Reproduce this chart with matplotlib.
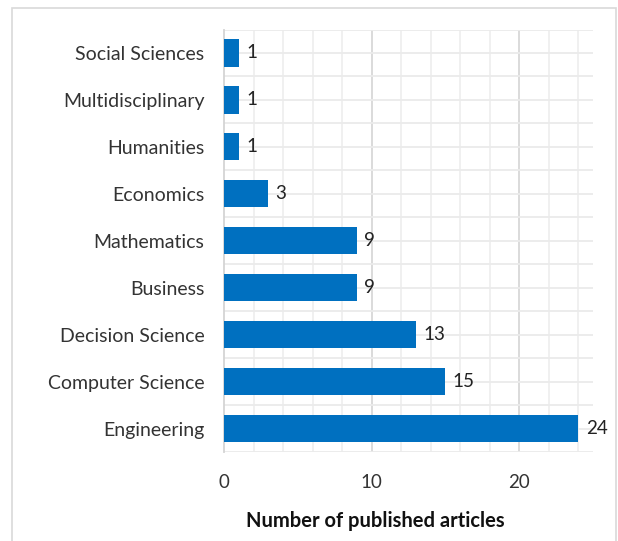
import matplotlib.pyplot as plt
import matplotlib.patches as patches
import numpy as np

categories = ["Engineering", "Computer Science", "Decision Science", "Business",
              "Mathematics", "Economics", "Humanities", "Multidisciplinary",
              "Social Sciences"]
articles = [24, 15, 13, 9, 9, 3, 1, 1, 1]

plt.rcParams['font.family'] = ['Lato', 'DejaVu Sans']

fig = plt.figure(figsize=(6.18, 5.41), dpi=100)
ax = fig.add_axes([224 / 618, 1 - 452 / 541, (593 - 224) / 618, (452 - 29.5) / 541])

# light frame round the whole chart
frame = patches.Rectangle((12 / 618, -0.02), (616 - 12) / 618, 1 - 8 / 541 + 0.02,
                          transform=fig.transFigure, fill=False,
                          edgecolor='#d9d9d9', linewidth=1.2, zorder=0)
fig.patches.append(frame)

y = np.arange(len(categories))
bars = ax.barh(y, articles, height=0.58, color='#0070c0', zorder=3)

for yi, v in zip(y, articles):
    ax.text(v + 0.5, yi, str(v), va='center', ha='left', fontsize=13.5,
            color='#222222')

ax.set_xlim(0, 25)
ax.set_ylim(-0.5, len(categories) - 0.5)
ax.set_yticks(y)
ax.set_yticklabels(categories, fontsize=14, color='#333333')
ax.set_xticks([0, 10, 20])
ax.set_xticklabels(['0', '10', '20'], fontsize=13.5, color='#333333')
ax.tick_params(axis='y', length=0, pad=14)
ax.tick_params(axis='x', length=0, pad=16)

# grid: fine lines every 2, stronger at 10 and 20, rows every half step
for xv in np.arange(2, 25, 2):
    ax.axvline(xv, color='#efefef', linewidth=1.3, zorder=1)
for xv in [10, 20]:
    ax.axvline(xv, color='#d9d9d9', linewidth=1.3, zorder=1)
for yv in np.arange(-0.5, len(categories), 0.5):
    ax.axhline(yv, color='#ebebeb', linewidth=1.3, zorder=1)

for s in ['top', 'right', 'bottom']:
    ax.spines[s].set_visible(False)
ax.spines['left'].set_color('#d4d4d4')
ax.spines['left'].set_linewidth(1.3)

fig.text(375 / 618, 1 - 521 / 541, 'Number of published articles', fontsize=14.5,
         fontweight='bold', color='#111111', ha='center', va='center')

fig.savefig('out.png', dpi=100)
